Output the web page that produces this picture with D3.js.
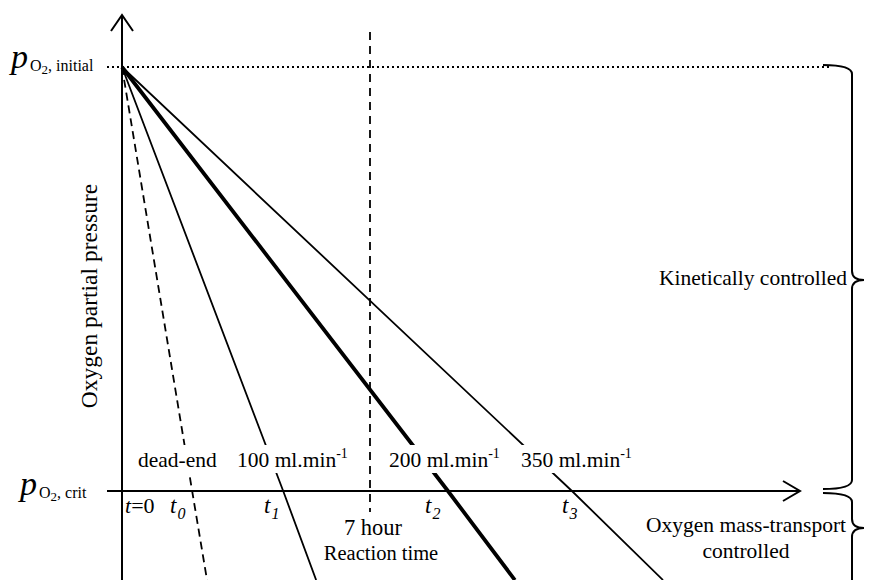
<!DOCTYPE html>
<html>
<head>
<meta charset="utf-8">
<script src="https://cdn.jsdelivr.net/npm/d3@7/dist/d3.min.js"></script>
<style>
  html, body { margin: 0; padding: 0; background: #fff; }
  svg { display: block; font-family: "Liberation Serif", "Times New Roman", serif; }
</style>
</head>
<body>
<svg id="chart" width="873" height="580"></svg>
<script>
// Flow conditions and where each depletion line meets the critical pressure
const seriesNames = ["dead-end", "100", "200", "350"];
const crossLabels = ["0", "1", "2", "3"];
// time (h) at which p_O2 reaches the critical value
const crossTimes = [1.98, 4.55, 9.2, 12.7];
// time (h) where each line leaves the drawing area
const endTimes = [2.4, 5.48, 11.09, 15.27];
const pInitial = 1;
const pCrit = 0;
const pEnd = -0.21;
const reactionTime = 7;

const svg = d3.select("#chart");

const x = d3.scaleLinear().domain([0, reactionTime]).range([122, 370]);
const y = d3.scaleLinear().domain([pCrit, pInitial]).range([491, 67]);

const styles = {
  "dead-end": { w: 1.8, dash: "8,5" },
  "100": { w: 1.8, dash: null },
  "200": { w: 3.8, dash: null },
  "350": { w: 1.8, dash: null }
};

const line = d3.line().x(d => x(d[0])).y(d => y(d[1]));

// depletion lines
seriesNames.forEach((name, i) => {
  const pts = [[0, pInitial], [crossTimes[i], pCrit], [endTimes[i], pEnd]];
  svg.append("path")
    .attr("d", line(pts))
    .attr("fill", "none")
    .attr("stroke", "#000")
    .attr("stroke-width", styles[name].w)
    .attr("stroke-dasharray", styles[name].dash);
});

// initial pressure dotted reference
svg.append("line")
  .attr("x1", 107).attr("x2", 830)
  .attr("y1", y(pInitial)).attr("y2", y(pInitial))
  .attr("stroke", "#000").attr("stroke-width", 2)
  .attr("stroke-dasharray", "2,3");

// 7 h reaction time marker
svg.append("line")
  .attr("x1", x(reactionTime)).attr("x2", x(reactionTime))
  .attr("y1", 32).attr("y2", 512)
  .attr("stroke", "#000").attr("stroke-width", 1.8)
  .attr("stroke-dasharray", "8,6");

// flow labels with white backing
const flowLabels = [
  { name: "dead-end", x: 138, text: "dead-end", sup: null },
  { name: "100", x: 237, text: "100 ml.min", sup: "-1" },
  { name: "200", x: 389, text: "200 ml.min", sup: "-1" },
  { name: "350", x: 521, text: "350 ml.min", sup: "-1" }
];
flowLabels.forEach(l => {
  const g = svg.append("g");
  const t = g.append("text")
    .attr("x", l.x).attr("y", 467)
    .attr("font-size", 21.5)
    .text(l.text);
  if (l.sup) {
    t.append("tspan").attr("dy", -9).attr("font-size", 14).text(l.sup);
  }
  const bb = t.node().getBBox();
  g.insert("rect", "text")
    .attr("x", bb.x - 3).attr("y", 445)
    .attr("width", bb.width + 6).attr("height", 28)
    .attr("fill", "#fff");
});

// axes
svg.append("line")
  .attr("x1", 107).attr("x2", 800)
  .attr("y1", y(pCrit)).attr("y2", y(pCrit))
  .attr("stroke", "#000").attr("stroke-width", 2);
svg.append("line")
  .attr("x1", x(0)).attr("x2", x(0))
  .attr("y1", 580).attr("y2", 15)
  .attr("stroke", "#000").attr("stroke-width", 2);
// arrow heads
svg.append("path")
  .attr("d", `M${x(0) - 11},${31} L${x(0)},${15} L${x(0) + 11},${31}`)
  .attr("fill", "none").attr("stroke", "#000").attr("stroke-width", 2);
svg.append("path")
  .attr("d", `M783,${y(pCrit) - 10} L800,${y(pCrit)} L783,${y(pCrit) + 10}`)
  .attr("fill", "none").attr("stroke", "#000").attr("stroke-width", 2);

// crossing-time labels
const tX = [170, 264, 425, 562];
svg.append("text")
  .attr("x", 125).attr("y", 513).attr("font-size", 22)
  .call(t => {
    t.append("tspan").attr("font-style", "italic").text("t");
    t.append("tspan").text("=0");
  });
crossLabels.forEach((c, i) => {
  const t = svg.append("text")
    .attr("x", tX[i]).attr("y", 513).attr("font-size", 23)
    .attr("font-style", "italic");
  t.append("tspan").text("t");
  t.append("tspan").attr("dx", 1).attr("dy", 6).attr("font-size", 16).text(c);
});

// pressure labels on the left
function pLabel(px, py, sub) {
  const t = svg.append("text").attr("x", px).attr("y", py);
  t.append("tspan").attr("font-style", "italic").attr("font-size", 34).text("p");
  t.append("tspan").attr("dx", 2).attr("dy", 3).attr("font-size", 16).text("O");
  t.append("tspan").attr("dy", 3).attr("font-size", 13).text("2");
  t.append("tspan").attr("dy", -3).attr("font-size", 16).text(sub);
}
pLabel(11, 68, ", initial");
pLabel(20, 495, ", crit");

// y axis title
svg.append("text")
  .attr("transform", "translate(97,296) rotate(-90)")
  .attr("text-anchor", "middle")
  .attr("font-size", 23.5)
  .text("Oxygen partial pressure");

// reaction time label
svg.append("text")
  .attr("x", 373).attr("y", 535)
  .attr("text-anchor", "middle").attr("font-size", 22.5)
  .text("7 hour");
svg.append("text")
  .attr("x", 381).attr("y", 560)
  .attr("text-anchor", "middle").attr("font-size", 20.5)
  .text("Reaction time");

// regime braces
function brace(x0, xs, xt, y1, ym, y2) {
  const r = 9;
  return `M${x0},${y1} Q${xs},${y1} ${xs},${y1 + r} L${xs},${ym - r} Q${xs},${ym} ${xt},${ym}` +
         ` Q${xs},${ym} ${xs},${ym + r} L${xs},${y2 - r} Q${xs},${y2} ${x0},${y2}`;
}
svg.append("path")
  .attr("d", brace(823, 852, 864, 65, 280, 489))
  .attr("fill", "none").attr("stroke", "#000").attr("stroke-width", 2);
svg.append("path")
  .attr("d", brace(823, 852, 864, 493, 528, 640))
  .attr("fill", "none").attr("stroke", "#000").attr("stroke-width", 2);

svg.append("text")
  .attr("x", 847).attr("y", 285)
  .attr("text-anchor", "end").attr("font-size", 21.5)
  .text("Kinetically controlled");
svg.append("text")
  .attr("x", 746).attr("y", 532)
  .attr("text-anchor", "middle").attr("font-size", 21.5)
  .text("Oxygen mass-transport");
svg.append("text")
  .attr("x", 746).attr("y", 558)
  .attr("text-anchor", "middle").attr("font-size", 21.5)
  .text("controlled");
</script>
</body>
</html>
